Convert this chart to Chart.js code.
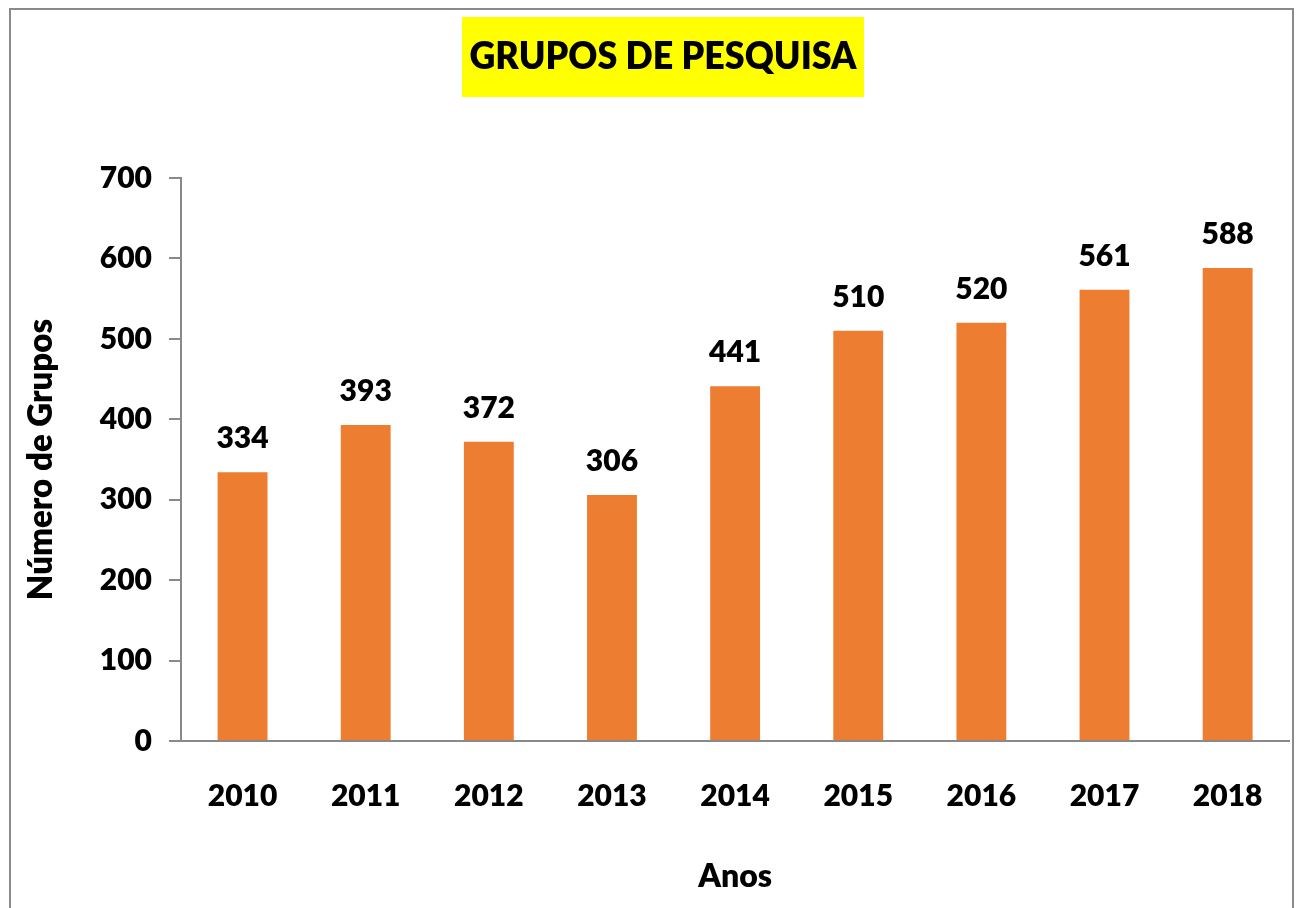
<!DOCTYPE html>
<html>
<head>
<meta charset="utf-8">
<script src="https://cdn.jsdelivr.net/npm/chart.js@4.4.1/dist/chart.umd.min.js"></script>
<style>
  html, body { margin: 0; padding: 0; background: #ffffff; }
  #wrap { position: relative; width: 1300px; height: 908px; overflow: hidden; background: #fff; }
  #frame { position: absolute; left: 9px; top: 8px; width: 1285px; height: 1000px; border: 2px solid #8a8a8a; box-sizing: border-box; }
  canvas { position: absolute; left: 0; top: 0; }
</style>
</head>
<body>
<div id="wrap">
  <div id="frame"></div>
  <canvas id="c" width="1300" height="908"></canvas>
</div>
<script>
const chartTitle = 'GRUPOS DE PESQUISA';
const xTitle = 'Anos';
const yTitle = 'Número de Grupos';
const years = ['2010', '2011', '2012', '2013', '2014', '2015', '2016', '2017', '2018'];
const grupos = [334, 393, 372, 306, 441, 510, 520, 561, 588];
const yTicks = [0, 100, 200, 300, 400, 500, 600, 700];

const FONT = 'Lato, "Open Sans", sans-serif';
const W = '800';
const AXIS_GRAY = '#898989';

const titleBoxPlugin = {
  id: 'titleBox',
  afterDraw(chart) {
    const ctx = chart.ctx;
    ctx.save();
    ctx.fillStyle = '#FFFF00';
    ctx.fillRect(462, 17, 402, 80);
    ctx.fillStyle = '#000';
    ctx.font = W + ' 38px ' + FONT;
    ctx.textAlign = 'center';
    ctx.textBaseline = 'alphabetic';
    const w = ctx.measureText(chartTitle).width;
    const target = 387;
    ctx.translate(663, 69);
    ctx.scale(Math.min(1, target / w), 1);
    ctx.fillText(chartTitle, 0, 0);
    ctx.restore();
  }
};

const dataLabelPlugin = {
  id: 'dataLabels',
  afterDatasetsDraw(chart) {
    const ctx = chart.ctx;
    const meta = chart.getDatasetMeta(0);
    ctx.save();
    ctx.fillStyle = '#000';
    ctx.font = W + ' 30px ' + FONT;
    ctx.textAlign = 'center';
    ctx.textBaseline = 'alphabetic';
    meta.data.forEach((bar, i) => {
      ctx.fillText(String(chart.data.datasets[0].data[i]), bar.x, bar.y - 24);
    });
    ctx.restore();
  }
};

new Chart(document.getElementById('c'), {
  type: 'bar',
  data: {
    labels: years,
    datasets: [{
      label: yTitle,
      data: grupos,
      backgroundColor: '#ED7D31',
      borderWidth: 0,
      categoryPercentage: 1.0,
      barPercentage: 0.405
    }]
  },
  options: {
    responsive: false,
    animation: false,
    devicePixelRatio: 1,
    layout: { padding: { top: 178, left: 0, right: 10, bottom: 0 } },
    plugins: { legend: { display: false }, tooltip: { enabled: false }, title: { display: false } },
    scales: {
      x: {
        grid: { display: false, drawTicks: false },
        border: { display: true, color: AXIS_GRAY, width: 2 },
        ticks: { color: '#000', font: { family: FONT, size: 30, weight: W }, padding: 37, maxRotation: 0 },
        title: { display: true, text: xTitle, color: '#000', font: { family: FONT, size: 32, weight: W }, padding: { top: 0, bottom: 12 } },
        afterFit(scale) { scale.height = 167; }
      },
      y: {
        min: 0, max: 700,
        afterBuildTicks(scale) { scale.ticks = yTicks.map(v => ({ value: v })); },
        grid: { display: true, drawOnChartArea: false, drawTicks: true, tickLength: 12, color: AXIS_GRAY, lineWidth: 2 },
        border: { display: true, color: AXIS_GRAY, width: 2 },
        ticks: { color: '#000', font: { family: FONT, size: 30, weight: W }, padding: 17 },
        title: { display: true, text: yTitle, color: '#000', font: { family: FONT, size: 33, weight: W }, padding: { top: 22, bottom: 0 } },
        afterFit(scale) { scale.width = 181; }
      }
    }
  },
  plugins: [titleBoxPlugin, dataLabelPlugin]
});
</script>
</body>
</html>
